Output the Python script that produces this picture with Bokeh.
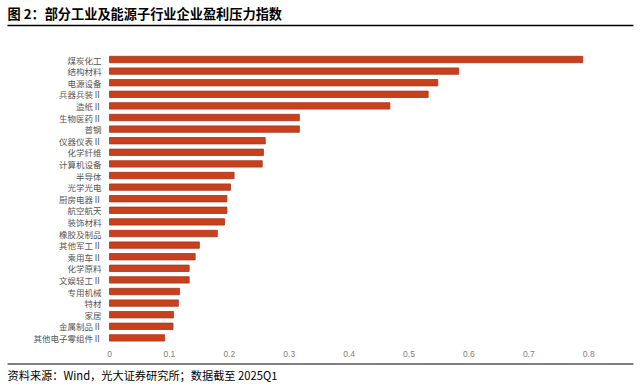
from bokeh.plotting import figure
from bokeh.models import Range1d, ColumnDataSource
from bokeh.core.properties import value
from bokeh.embed import file_html
from bokeh.resources import INLINE

title_text = "图 2：部分工业及能源子行业企业盈利压力指数"
source_text = "资料来源：Wind，光大证券研究所；数据截至 2025Q1"

categories = ["煤炭化工", "结构材料", "电源设备", "兵器兵装Ⅱ", "造纸Ⅱ", "生物医药Ⅱ", "普钢",
              "仪器仪表Ⅱ", "化学纤维", "计算机设备", "半导体", "光学光电", "厨房电器Ⅱ",
              "航空航天", "装饰材料", "橡胶及制品", "其他军工Ⅱ", "乘用车Ⅱ", "化学原料",
              "文娱轻工Ⅱ", "专用机械", "特材", "家居", "金属制品Ⅱ", "其他电子零组件Ⅱ"]
values = [0.790, 0.583, 0.548, 0.532, 0.468, 0.317, 0.317,
          0.260, 0.257, 0.255, 0.208, 0.202, 0.196,
          0.196, 0.192, 0.180, 0.150, 0.143, 0.133,
          0.133, 0.117, 0.115, 0.107, 0.106, 0.092]
tick_vals = [0, 0.1, 0.2, 0.3, 0.4, 0.5, 0.6, 0.7, 0.8]
tick_labels = ["0", "0.1", "0.2", "0.3", "0.4", "0.5", "0.6", "0.7", "0.8"]

CJK = "Noto Sans CJK SC"
W, H = 640, 386
X0 = 109           # pixel where value 0 sits
PX_PER_UNIT = 599  # pixels per 1.0 of value
ROW = 11.6         # pixels per category row
FIRST_ROW_Y = 59   # pixel centre of first bar

# y: row index (0 = top category), inverted so index grows downward
p = figure(width=W, height=H,
           x_range=Range1d(-X0 / PX_PER_UNIT, (W - X0) / PX_PER_UNIT),
           y_range=Range1d((H - FIRST_ROW_Y) / ROW, -FIRST_ROW_Y / ROW),
           x_axis_location=None, y_axis_location=None,
           output_backend="svg", toolbar_location=None)
p.min_border = 0
p.min_border_left = p.min_border_right = p.min_border_top = p.min_border_bottom = 0
p.outline_line_color = None
p.grid.visible = False
p.background_fill_color = "white"
p.border_fill_color = "white"
p.extra_x_ranges = {"px": Range1d(0, W)}
p.extra_y_ranges = {"px": Range1d(H, 0)}

src = ColumnDataSource(dict(cat=categories, val=values, idx=list(range(len(categories)))))

# bars
p.hbar(y="idx", right="val", left=0, height=0.55, source=src,
       fill_color="#C8411F", line_color="#A9341A", line_width=0.8)

# category labels (left axis)
p.text(x=0, y="idx", text="cat", source=src, x_offset=-8,
       text_align="right", text_baseline="middle", text_font=value(CJK),
       text_font_size="8.5px", text_color="#555555")

# value tick labels (bottom axis)
tsrc = ColumnDataSource(dict(v=tick_vals, lab=tick_labels, yy=[353] * len(tick_vals)))
p.text(x="v", y="yy", text="lab", source=tsrc, y_range_name="px",
       text_align="center", text_baseline="middle", text_font=value("Liberation Sans"),
       text_font_size="8.5px", text_color="#808080")

# header
p.text(x=[7], y=[13], text=[title_text], x_range_name="px", y_range_name="px",
       text_font=value(CJK), text_font_size="13.2px", text_font_style="bold",
       text_baseline="middle", text_align="left", text_color="#000000")
p.segment(x0=[7], y0=[25], x1=[633], y1=[25], x_range_name="px", y_range_name="px",
          line_color="#000000", line_width=1.6)

# footer
p.segment(x0=[7], y0=[363.5], x1=[633], y1=[363.5], x_range_name="px", y_range_name="px",
          line_color="#000000", line_width=1)
p.text(x=[7], y=[374], text=[source_text], x_range_name="px", y_range_name="px",
       text_font=value(CJK), text_font_size="11.2px",
       text_baseline="middle", text_align="left", text_color="#000000")

open("out.html", "w").write(file_html(p, INLINE))
